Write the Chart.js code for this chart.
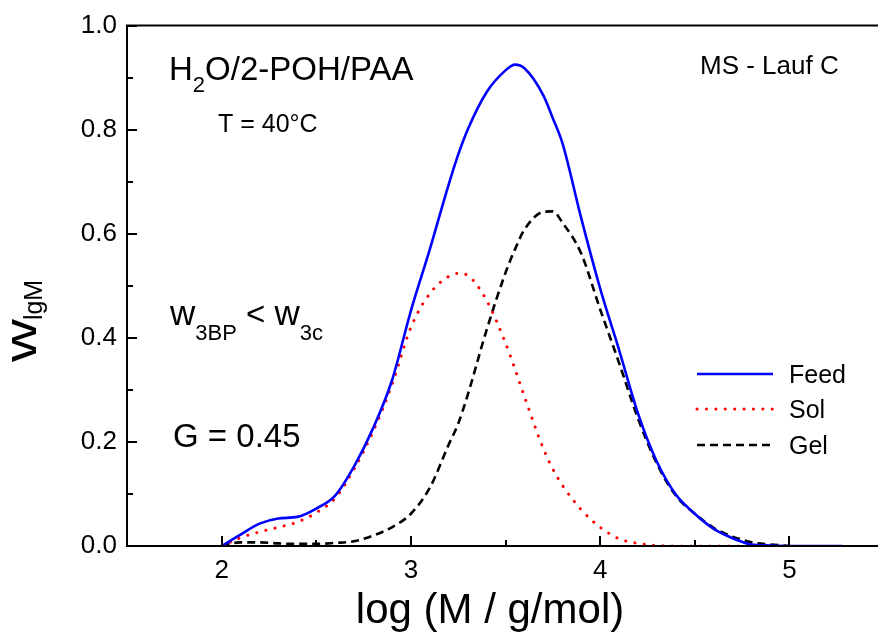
<!DOCTYPE html>
<html>
<head>
<meta charset="utf-8">
<script src="https://cdn.jsdelivr.net/npm/chart.js@4/dist/chart.umd.min.js"></script>
<style>
  html, body { margin: 0; padding: 0; background: #fff; overflow: hidden; }
  #wrap { width: 878px; height: 635px; overflow: hidden; }
</style>
</head>
<body>
<div id="wrap"><canvas id="mwd" width="890" height="635"></canvas></div>
<script>
    // log M grid shared by all three distributions
    var logM = [2.0, 2.05, 2.1, 2.2, 2.3, 2.4, 2.5, 2.6, 2.7, 2.8, 2.9, 3.0, 3.1, 3.2, 3.25, 3.3, 3.4, 3.5, 3.55, 3.6,
        3.7, 3.75, 3.8, 3.9, 4.0, 4.1, 4.2, 4.3, 4.4, 4.5, 4.6, 4.7, 4.75, 4.8, 4.9, 5.0, 5.28];

    var feed = [0, 0.011, 0.022, 0.043, 0.053, 0.056, 0.072, 0.097, 0.153, 0.226, 0.318, 0.452, 0.57, 0.695, 0.752, 0.80, 0.872, 0.914, 0.925, 0.918,
        0.866, 0.822, 0.775, 0.63, 0.495, 0.377, 0.255, 0.162, 0.099, 0.062, 0.033, 0.015, 0.008, 0.003, 0.001, 0, 0];

    var sol = [0, 0.008, 0.016, 0.027, 0.036, 0.046, 0.064, 0.092, 0.148, 0.22, 0.31, 0.42, 0.485, 0.518, 0.524, 0.52, 0.472, 0.39, 0.34, 0.287,
        0.187, 0.148, 0.117, 0.07, 0.036, 0.014, 0.005, 0.001, 0, 0, 0, 0, 0, null, null, null, null];

    var gel = [0, 0.005, 0.007, 0.007, 0.005, 0.004, 0.004, 0.006, 0.009, 0.02, 0.036, 0.062, 0.112, 0.195, 0.235, 0.29, 0.415, 0.525, 0.57, 0.608,
        0.642, 0.643, 0.622, 0.562, 0.455, 0.352, 0.245, 0.158, 0.097, 0.062, 0.035, 0.018, 0.012, 0.007, 0.003, 0, null];

    var xTicks = [2, 3, 4, 5];
    var xMinor = [2.5, 3.5, 4.5];
    var yTicks = [0, 0.2, 0.4, 0.6, 0.8, 1.0];
    var yMinor = [0.1, 0.3, 0.5, 0.7, 0.9];
    var seriesNames = ['Feed', 'Sol', 'Gel'];

    var FONT = 'Liberation Sans, Arial, Helvetica, sans-serif';

    function toPoints(ys) {
        var pts = [];
        for (var i = 0; i < logM.length; i++) {
            pts.push({ x: logM[i], y: ys[i] });
        }
        return pts;
    }

    // text with a lowered, smaller part: parts = [[text, size, dy], ...]
    function drawParts(ctx, parts, x, y) {
        parts.forEach(function(p) {
            ctx.font = p[1] + 'px ' + FONT;
            ctx.fillText(p[0], x, y + p[2]);
            x += ctx.measureText(p[0]).width;
        });
    }

    var framePlugin = {
        id: 'frame',
        afterDraw: function(chart) {
            var ctx = chart.ctx;
            var a = chart.chartArea;
            var xs = chart.scales.x, ys = chart.scales.y;
            ctx.save();
            ctx.strokeStyle = '#000';
            ctx.fillStyle = '#000';
            ctx.lineWidth = 2;

            // axes: left, bottom and top line
            ctx.beginPath();
            ctx.moveTo(a.left, a.top);
            ctx.lineTo(a.left, a.bottom);
            ctx.moveTo(a.left - 1, a.bottom);
            ctx.lineTo(a.right, a.bottom);
            ctx.moveTo(a.left - 1, a.top);
            ctx.lineTo(a.right, a.top);
            ctx.stroke();

            // inward ticks
            ctx.beginPath();
            xTicks.forEach(function(v) {
                var px = Math.round(xs.getPixelForValue(v));
                ctx.moveTo(px, a.bottom);
                ctx.lineTo(px, a.bottom - 10);
            });
            xMinor.forEach(function(v) {
                var px = Math.round(xs.getPixelForValue(v));
                ctx.moveTo(px, a.bottom);
                ctx.lineTo(px, a.bottom - 6);
            });
            yTicks.forEach(function(v) {
                var py = Math.round(ys.getPixelForValue(v));
                ctx.moveTo(a.left, py);
                ctx.lineTo(a.left + 10, py);
            });
            yMinor.forEach(function(v) {
                var py = Math.round(ys.getPixelForValue(v));
                ctx.moveTo(a.left, py);
                ctx.lineTo(a.left + 6, py);
            });
            ctx.stroke();

            // notes inside the plot
            ctx.textBaseline = 'alphabetic';
            ctx.textAlign = 'left';
            drawParts(ctx, [['H', 33, 0], ['2', 22, 12], ['O/2-POH/PAA', 33, 0]], 169, 80);
            drawParts(ctx, [['T = 40°C', 25, 0]], 218, 132);
            drawParts(ctx, [['MS - Lauf C', 26, 0]], 700, 74);
            drawParts(ctx, [['w', 35, 0], ['3BP', 22, 15], [' < ', 33, 0], ['w', 35, 0], ['3c', 22, 15]], 170, 325);
            drawParts(ctx, [['G = 0.45', 33, 0]], 173, 447);

            // legend
            var legY = [374, 409, 445];
            chart.data.datasets.forEach(function(ds, i) {
                ctx.save();
                ctx.strokeStyle = ds.borderColor;
                ctx.lineWidth = ds.borderWidth;
                ctx.lineCap = ds.borderCapStyle || 'butt';
                ctx.setLineDash(ds.borderDash || []);
                ctx.beginPath();
                ctx.moveTo(697, legY[i]);
                ctx.lineTo(773, legY[i]);
                ctx.stroke();
                ctx.restore();
                ctx.font = '25px ' + FONT;
                ctx.fillText(seriesNames[i], 789, legY[i] + 9);
            });

            // x axis title
            ctx.textAlign = 'center';
            ctx.font = '42px ' + FONT;
            ctx.fillText('log (M / g/mol)', 490, 623);
            ctx.textAlign = 'left';

            // y axis title, w with subscript lgM
            ctx.save();
            ctx.translate(36, 362);
            ctx.rotate(-Math.PI / 2);
            ctx.save();
            ctx.scale(1.35, 1);
            ctx.font = '44px ' + FONT;
            ctx.fillText('w', 0, 0);
            var ww = ctx.measureText('w').width * 1.35;
            ctx.restore();
            ctx.font = '25px ' + FONT;
            ctx.fillText('lgM', ww - 1, 6);
            ctx.restore();

            ctx.restore();
        }
    };

    var ctx = document.getElementById('mwd').getContext('2d');

    var chart = new Chart(ctx, {
        type: 'line',
        data: {
            datasets: [{
                label: seriesNames[0],
                data: toPoints(feed),
                borderColor: '#0000ff',
                borderWidth: 2.6,
                pointRadius: 0,
                cubicInterpolationMode: 'monotone',
                order: 0
            }, {
                label: seriesNames[1],
                data: toPoints(sol),
                borderColor: '#ff0000',
                borderWidth: 3,
                borderDash: [0.1, 9.3],
                borderCapStyle: 'round',
                pointRadius: 0,
                cubicInterpolationMode: 'monotone',
                order: 1
            }, {
                label: seriesNames[2],
                data: toPoints(gel),
                borderColor: '#000000',
                borderWidth: 2.6,
                borderDash: [8, 5],
                pointRadius: 0,
                cubicInterpolationMode: 'monotone',
                order: 2
            }]
        },
        options: {
            responsive: false,
            animation: false,
            devicePixelRatio: 1,
            layout: { padding: { top: 25, right: 6, left: 0, bottom: 0 } },
            plugins: {
                legend: { display: false },
                tooltip: { enabled: false }
            },
            scales: {
                x: {
                    type: 'linear',
                    min: 1.5,
                    max: 5.5,
                    grid: { display: false, drawTicks: false },
                    border: { display: false },
                    afterBuildTicks: function(s) {
                        s.ticks = xTicks.map(function(v) { return { value: v }; });
                    },
                    afterFit: function(s) { s.height = 89; },
                    ticks: {
                        color: '#000',
                        padding: 9,
                        maxRotation: 0,
                        font: { family: FONT, size: 26 },
                        callback: function(v) { return String(v); }
                    }
                },
                y: {
                    min: 0,
                    max: 1,
                    grid: { display: false, drawTicks: false },
                    border: { display: false },
                    afterBuildTicks: function(s) {
                        s.ticks = yTicks.map(function(v) { return { value: v }; });
                    },
                    afterFit: function(s) { s.width = 127; },
                    ticks: {
                        color: '#000',
                        padding: 10,
                        font: { family: FONT, size: 26 },
                        callback: function(v) { return v.toFixed(1); }
                    }
                }
            }
        },
        plugins: [framePlugin]
    });
</script>
</body>
</html>
